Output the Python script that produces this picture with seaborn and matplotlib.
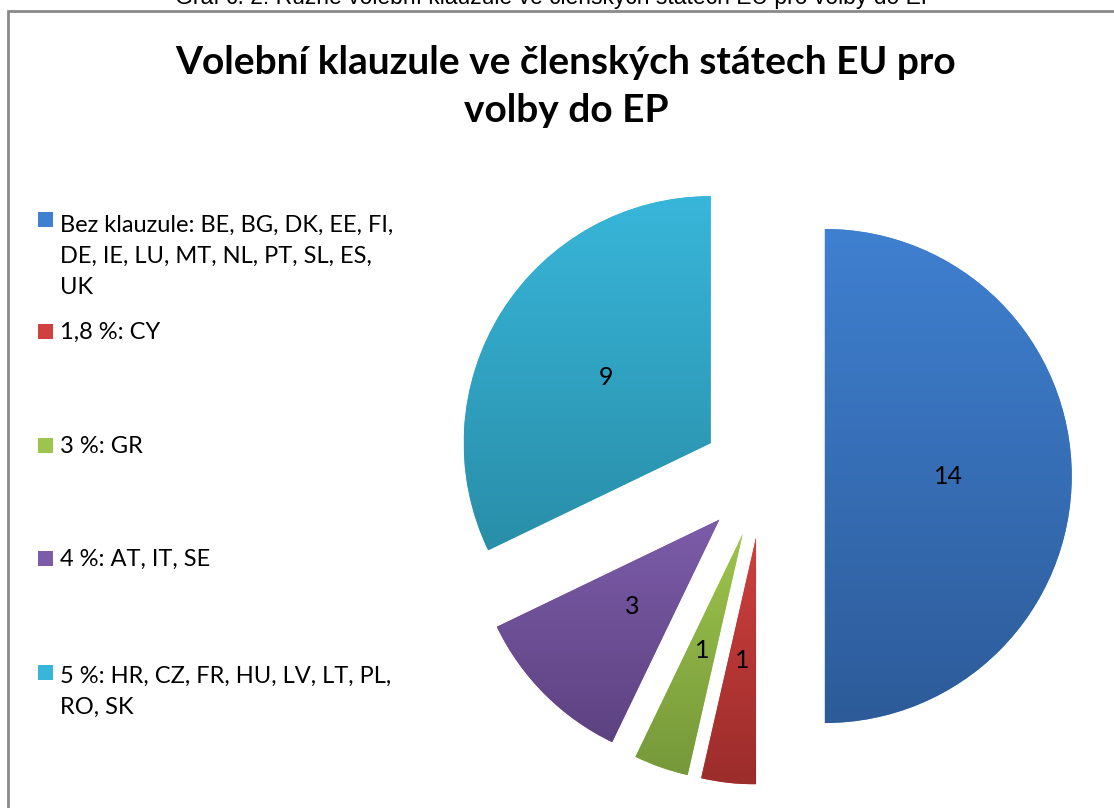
import numpy as np
import seaborn as sns
import matplotlib.pyplot as plt
from matplotlib.colors import LinearSegmentedColormap
from matplotlib.patches import Rectangle

# data
categories = ['Bez klauzule: BE, BG, DK, EE, FI,\nDE, IE, LU, MT, NL, PT, SL, ES,\nUK',
              '1,8 %: CY',
              '3 %: GR',
              '4 %: AT, IT, SE',
              '5 %: HR, CZ, FR, HU, LV, LT, PL,\nRO, SK']
counts = [14, 1, 1, 3, 9]
title = 'Volební klauzule ve členských státech EU pro\nvolby do EP'
caption = 'Graf č. 2: Různé volební klauzule ve členských státech EU pro volby do EP'

# gradient colours (top, bottom) per slice
colors_top = ['#3f80d0', '#cf403e', '#9dc44c', '#7c5ca9', '#38b6da']
colors_bot = ['#2d5b99', '#9b2d2b', '#76983a', '#5d4281', '#298ea8']

sns.set_theme(style='white')
plt.rcParams['font.family'] = ['Lato', 'DejaVu Sans']

W, H = 1114, 808
fig = plt.figure(figsize=(W / 100, H / 100), dpi=100)
fig.patch.set_facecolor('white')

# chart frame (cropped on right and bottom)
fig.patches.append(Rectangle((8 / W, -0.1), 1.2, 1 - 11 / H + 0.1, transform=fig.transFigure,
                             facecolor='none', edgecolor='#8a8a8a', linewidth=2))

# caption above the frame, clipped by the image edge
fig.text(556 / W, 1 - 4 / H, caption, ha='center', va='baseline', fontsize=16.5,
         family=['Liberation Sans', 'DejaVu Sans'], color='black')

# title: baseline of the last line
fig.text(566 / W, 1 - 122 / H, title, ha='center', va='baseline', fontsize=28,
         fontweight='bold', linespacing=1.45, color='black')

# pie
r_px = 247
cx, cy = 763, 476
half = 1.3 * r_px
ax = fig.add_axes([(cx - half) / W, (H - cy - half) / H, 2 * half / W, 2 * half / H])
wedges, _, autotexts = ax.pie(counts, startangle=90, counterclock=False,
                              explode=[0.25] * len(counts), radius=1,
                              colors=colors_top, autopct=lambda p: f'{p * sum(counts) / 100:.0f}',
                              pctdistance=0.5, wedgeprops=dict(linewidth=0),
                              textprops=dict(fontsize=18, color='black'))
ax.set_aspect('equal')
ax.axis('off')

grad = np.linspace(0, 1, 256).reshape(-1, 1)
for w, ct, cb in zip(wedges, colors_top, colors_bot):
    ext = w.get_path().get_extents(w.get_patch_transform())
    cmap = LinearSegmentedColormap.from_list('g', [ct, cb])
    im = ax.imshow(grad, cmap=cmap, extent=(ext.x0, ext.x1, ext.y0, ext.y1),
                   origin='upper', aspect='auto', zorder=w.get_zorder() + 0.1)
    im.set_clip_path(w)
for t in autotexts:
    t.set_zorder(5)
ax.set_xlim(-1.3, 1.3)
ax.set_ylim(-1.3, 1.3)

# legend, handle aligned to first line
entry_y = [212, 324, 438, 551, 665]
pitch = 33.5
for lab, y, ct, cb in zip(categories, entry_y, colors_top, colors_bot):
    sq = Rectangle((38 / W, 1 - (y + 15) / H), 15 / W, 15 / H,
                   transform=fig.transFigure, facecolor=ct, edgecolor='none')
    fig.patches.append(sq)
    sq_grad = fig.figimage(np.linspace(0, 1, 15).reshape(-1, 1), xo=38, yo=H - y - 15,
                           cmap=LinearSegmentedColormap.from_list('s', [cb, ct]), origin='lower')
    n_extra = lab.count('\n')
    fig.text(60 / W, 1 - (y + 15 + n_extra * pitch) / H, lab, ha='left', va='baseline',
             fontsize=17, linespacing=1.58, color='black')

fig.savefig('out.png', dpi=100, facecolor='white')
